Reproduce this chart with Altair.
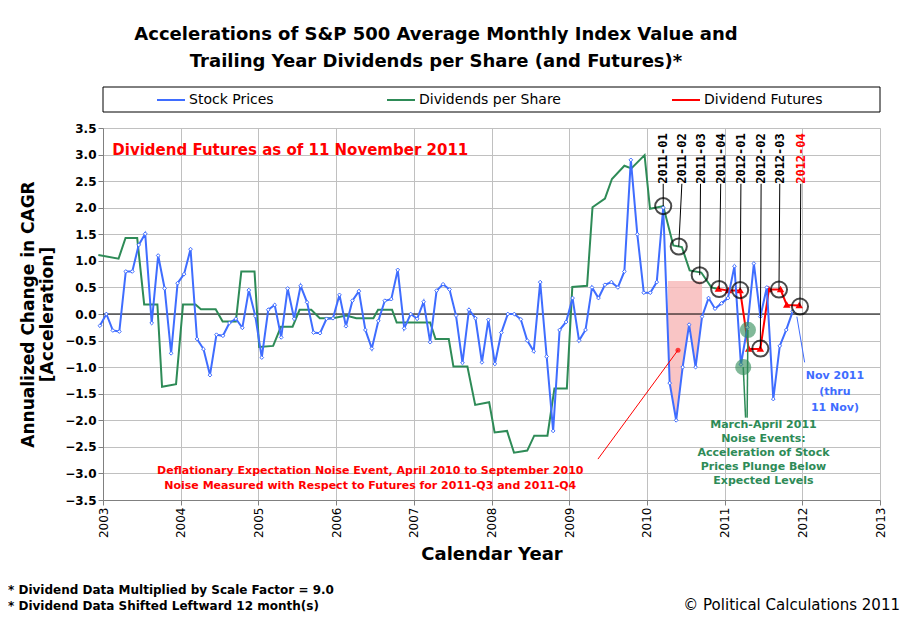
import pandas as pd
import altair as alt

# blue series, monthly from Jan 2003 to Nov 2011
stock_start = 2002.96
stock_values = [
    -0.22, 0.00, -0.31, -0.33, 0.80, 0.80, 1.30, 1.51, -0.17, 1.10, 0.48, -0.74,
    0.58, 0.75, 1.22, -0.47, -0.66, -1.15, -0.39, -0.41, -0.17, -0.09, -0.26, 0.45,
    -0.04, -0.82, 0.08, 0.17, -0.44, 0.48, -0.09, 0.53, 0.22, -0.35, -0.36, -0.09,
    -0.08, 0.36, -0.23, 0.25, 0.43, -0.30, -0.65, -0.13, 0.25, 0.28, 0.83, -0.27,
    0.00, -0.09, 0.23, -0.53, 0.44, 0.56, 0.46, -0.03, -0.92, 0.08, -0.08, -0.91,
    -0.11, -0.94, -0.35, 0.00, 0.00, -0.10, -0.50, -0.70, 0.60, -0.80, -2.20, -0.30,
    -0.15, 0.30, -0.50, -0.30, 0.50, 0.30, 0.55, 0.60, 0.50, 0.80, 2.90, 1.50,
    0.40, 0.40, 0.60, 2.00, -1.30, -2.00, -1.00, -0.20, -1.00, -0.05, 0.30, 0.10,
    0.20, 0.30, 0.90, -0.95, -0.25, 0.95, -0.05, 0.50, -1.60, -0.60, -0.30, 0.05,
]
stock_years = [stock_start + i / 12 for i in range(len(stock_values))]

div_years = [2002.94, 2003.20, 2003.29, 2003.44, 2003.53, 2003.70, 2003.76, 2003.94,
             2004.03, 2004.19, 2004.26, 2004.45, 2004.54, 2004.71, 2004.78, 2004.95,
             2005.01, 2005.19, 2005.29, 2005.44, 2005.53, 2005.68, 2005.79, 2005.96,
             2006.13, 2006.26, 2006.48, 2006.54, 2006.72, 2006.78, 2007.21, 2007.28,
             2007.45, 2007.51, 2007.69, 2007.79, 2007.97, 2008.04, 2008.20, 2008.29,
             2008.46, 2008.55, 2008.72, 2008.81, 2008.97, 2009.04, 2009.23, 2009.30,
             2009.46, 2009.55, 2009.71, 2009.80, 2009.97, 2010.04, 2010.14, 2010.21,
             2010.34, 2010.45, 2010.55, 2010.70, 2010.83, 2010.92]
div_values = [1.11, 1.04, 1.43, 1.43, 0.18, 0.18, -1.37, -1.32,
              0.18, 0.18, 0.09, 0.09, -0.14, -0.14, 0.80, 0.80,
              -0.62, -0.60, -0.24, -0.24, 0.08, 0.08, -0.08, -0.08,
              -0.03, -0.08, -0.08, 0.08, 0.08, -0.16, -0.16, -0.47,
              -0.47, -0.99, -0.99, -1.71, -1.66, -2.23, -2.20, -2.61,
              -2.57, -2.29, -2.29, -1.40, -1.40, 0.51, 0.53, 2.01,
              2.17, 2.54, 2.79, 2.74, 2.99, 1.98, 2.01, 2.03,
              1.29, 1.26, 0.82, 0.78, 0.50, 0.47]

fut_years = [2010.92, 2011.05, 2011.20, 2011.31, 2011.46, 2011.57, 2011.72, 2011.80, 2011.96]
fut_values = [0.47, 0.44, 0.44, -0.66, -0.66, 0.46, 0.46, 0.17, 0.16]

quarters = ["2011-01", "2011-02", "2011-03", "2011-04", "2012-01", "2012-02", "2012-03", "2012-04"]
q_years = [2010.21, 2010.41, 2010.68, 2010.93, 2011.20, 2011.46, 2011.70, 2011.97]
q_values = [2.03, 1.27, 0.73, 0.47, 0.45, -0.65, 0.46, 0.14]
q_label_years = [2010.21, 2010.45, 2010.69, 2010.95, 2011.21, 2011.47, 2011.71, 2011.98]

BLUE = "#3f6dff"
GREEN = "#2e8b57"
RED = "#ff0000"
FONT = "DejaVu Sans"

xs = alt.Scale(domain=[2003, 2013], nice=False)
ys = alt.Scale(domain=[-3.5, 3.5], nice=False)
x_axis = alt.Axis(values=list(range(2003, 2014)), format="d", labelAngle=270,
                  labelAlign="right", labelBaseline="middle", labelFontSize=12,
                  labelFont=FONT, titleFont=FONT, titleFontSize=18, titleFontWeight="bold",
                  titlePadding=8, gridColor="#c0c0c0", domainColor="#808080", tickColor="#808080")
y_axis = alt.Axis(values=[x / 2 for x in range(-7, 8)], format=".1f", labelFontSize=12,
                  labelOverlap=False, labelFontWeight="bold", labelFont=FONT, titleFont=FONT,
                  titleFontSize=17, titleFontWeight="bold", titlePadding=8, gridColor="#c0c0c0",
                  domainColor="#808080", tickColor="#808080")
X_TITLE = "Calendar Year"
Y_TITLE = ["Annualized Change in CAGR", "[Acceleration]"]


def X(f):
    return alt.X(f, scale=xs, axis=x_axis, title=X_TITLE)


def Y(f):
    return alt.Y(f, scale=ys, axis=y_axis, title=Y_TITLE)


stock = pd.DataFrame({"year": stock_years, "v": stock_values})
div = pd.DataFrame({"year": div_years, "v": div_values})
fut = pd.DataFrame({"year": fut_years, "v": fut_values})
qdf = pd.DataFrame({"q": quarters, "year": q_years, "v": q_values, "ly": q_label_years,
                    "top": 2.45, "col": ["black"] * 7 + [RED]})

base = alt.Chart(stock)

# pink noise region between blue line and the level of 2011-Q3/Q4 futures
shade = stock[(stock.year > 2010.2) & (stock.year < 2010.8)].copy()
shade_df = pd.concat([pd.DataFrame({"year": [2010.27], "v": [-0.6]}),
                      shade[(shade.year >= 2010.27) & (shade.year <= 2010.71)],
                      pd.DataFrame({"year": [2010.71], "v": [0.4]})])
shade_df["top"] = 0.62
shade_layer = alt.Chart(shade_df).mark_area(color="#f7b6b6", opacity=0.8).encode(
    x=X("year:Q"), y=Y("v:Q"), y2="top:Q")

zero = alt.Chart(pd.DataFrame({"v": [0]})).mark_rule(color="black", strokeWidth=1.2).encode(
    y=Y("v:Q"))

div_line = alt.Chart(div).mark_line(color=GREEN, strokeWidth=2).encode(x=X("year:Q"), y=Y("v:Q"))
stock_line = base.mark_line(color=BLUE, strokeWidth=2,
                            point=alt.OverlayMarkDef(shape="diamond", filled=True, fill="white",
                                                     stroke=BLUE, strokeWidth=1, size=14)).encode(
    x=X("year:Q"), y=Y("v:Q"))
fut_line = alt.Chart(fut).mark_line(color=RED, strokeWidth=2,
                                    point=alt.OverlayMarkDef(shape="triangle-up", filled=False,
                                                             stroke=RED, size=16)).encode(
    x=X("year:Q"), y=Y("v:Q"))

leaders = alt.Chart(qdf).mark_rule(color="black", strokeWidth=1).encode(
    x=X("ly:Q"), y=Y("top:Q"), x2="year:Q", y2="v:Q")
circles = alt.Chart(qdf).mark_point(shape="circle", size=260, stroke="black", strokeWidth=2,
                                    filled=False).encode(x=X("year:Q"), y=Y("v:Q"))
qlabels = alt.Chart(qdf).mark_text(angle=270, align="left", baseline="middle", font="DejaVu Sans Mono",
                                   fontWeight="bold", fontSize=12).encode(
    x=X("ly:Q"), y=Y("top:Q"), text="q:N", color=alt.Color("col:N", scale=None))

# green noise markers and arrows
gdf = pd.DataFrame({"year": [2011.24, 2011.30], "v": [-1.0, -0.30],
                    "ty": [2011.27, 2011.29], "tv": [-1.95, -1.95]})
g_circ = alt.Chart(gdf).mark_point(shape="circle", size=200, fill=GREEN, stroke=GREEN,
                                   opacity=0.6, filled=True).encode(x=X("year:Q"), y=Y("v:Q"))
g_arrow = alt.Chart(gdf).mark_rule(color=GREEN, strokeWidth=1.5).encode(
    x=X("ty:Q"), y=Y("tv:Q"), x2="year:Q", y2="v:Q")

# red and blue pointers
rdf = pd.DataFrame({"year": [2010.40], "v": [-0.68], "ty": [2009.37], "tv": [-2.73]})
r_line = alt.Chart(rdf).mark_rule(color=RED, strokeWidth=1).encode(
    x=X("ty:Q"), y=Y("tv:Q"), x2="year:Q", y2="v:Q")
r_dot = alt.Chart(rdf).mark_point(filled=True, color=RED, size=25).encode(x=X("year:Q"), y=Y("v:Q"))
bdf = pd.DataFrame({"year": [2011.93], "v": [-0.05], "ty": [2012.03], "tv": [-0.91]})
b_line = alt.Chart(bdf).mark_rule(color=BLUE, strokeWidth=1).encode(
    x=X("ty:Q"), y=Y("tv:Q"), x2="year:Q", y2="v:Q")


def note(lines, year, v, color, size=11, align="center", step=0.27):
    d = pd.DataFrame({"t": lines, "year": year, "v": [v - i * step for i in range(len(lines))]})
    return alt.Chart(d).mark_text(color=color, font=FONT, fontWeight="bold", fontSize=size,
                                  align=align, baseline="middle").encode(
        x=X("year:Q"), y=Y("v:Q"), text="t:N")


n1 = note(["Dividend Futures as of 11 November 2011"], 2003.12, 3.08, RED, size=15, align="left")
n2 = note(["Deflationary Expectation Noise Event, April 2010 to September 2010",
           "Noise Measured with Respect to Futures for 2011-Q3 and 2011-Q4"], 2006.44, -2.96, RED)
n3 = note(["Nov 2011", "(thru", "11 Nov)"], 2012.42, -1.17, BLUE, step=0.30)
n4 = note(["March-April 2011", "Noise Events:", "Acceleration of Stock",
           "Prices Plunge Below", "Expected Levels"], 2011.50, -2.09, GREEN, step=0.265)


# title, legend box and footers placed in pixels around the plot
def ptext(t, x, y, size, weight="bold", align="center", color="black"):
    return alt.Chart(pd.DataFrame({"t": [t]})).mark_text(
        font=FONT, fontSize=size, fontWeight=weight, align=align, baseline="middle", color=color
    ).encode(x=alt.value(x), y=alt.value(y), text="t:N")


title1 = ptext("Accelerations of S&P 500 Average Monthly Index Value and", 333, -93, 18)
title2 = ptext("Trailing Year Dividends per Share (and Futures)*", 333, -66, 18)
leg_box = alt.Chart(pd.DataFrame({"a": [0]})).mark_rect(fill="white", stroke="black", strokeWidth=1).encode(
    x=alt.value(0), x2=alt.value(777), y=alt.value(-41), y2=alt.value(-16))
leg_items = []
for x0, col, lab in [(54, BLUE, "Stock Prices"), (284, GREEN, "Dividends per Share"),
                     (569, RED, "Dividend Futures")]:
    leg_items.append(alt.Chart(pd.DataFrame({"a": [0]})).mark_rule(color=col, strokeWidth=2).encode(
        x=alt.value(x0), x2=alt.value(x0 + 28), y=alt.value(-28)))
    leg_items.append(ptext(lab, x0 + 32, -28, 14, weight="normal", align="left"))
f1 = ptext("* Dividend Data Multiplied by Scale Factor = 9.0", -95, 462, 12, align="left")
f2 = ptext("* Dividend Data Shifted Leftward 12 month(s)", -95, 478, 12, align="left")
f3 = ptext("© Political Calculations 2011", 797, 477, 15, weight="normal", align="right")

chart = alt.layer(
    shade_layer, zero, div_line, fut_line, stock_line, leaders, circles, qlabels,
    g_arrow, g_circ, r_line, r_dot, b_line, n1, n2, n3, n4,
    title1, title2, leg_box, *leg_items, f1, f2, f3
).properties(
    width=777, height=372, autosize=alt.AutoSizeParams(type="none"),
    padding={"left": 95, "top": 120, "right": 23, "bottom": 115}
).configure_view(stroke="#808080").configure(background="white")

chart.save("out.html", embed_options={"renderer": "svg", "actions": False})
